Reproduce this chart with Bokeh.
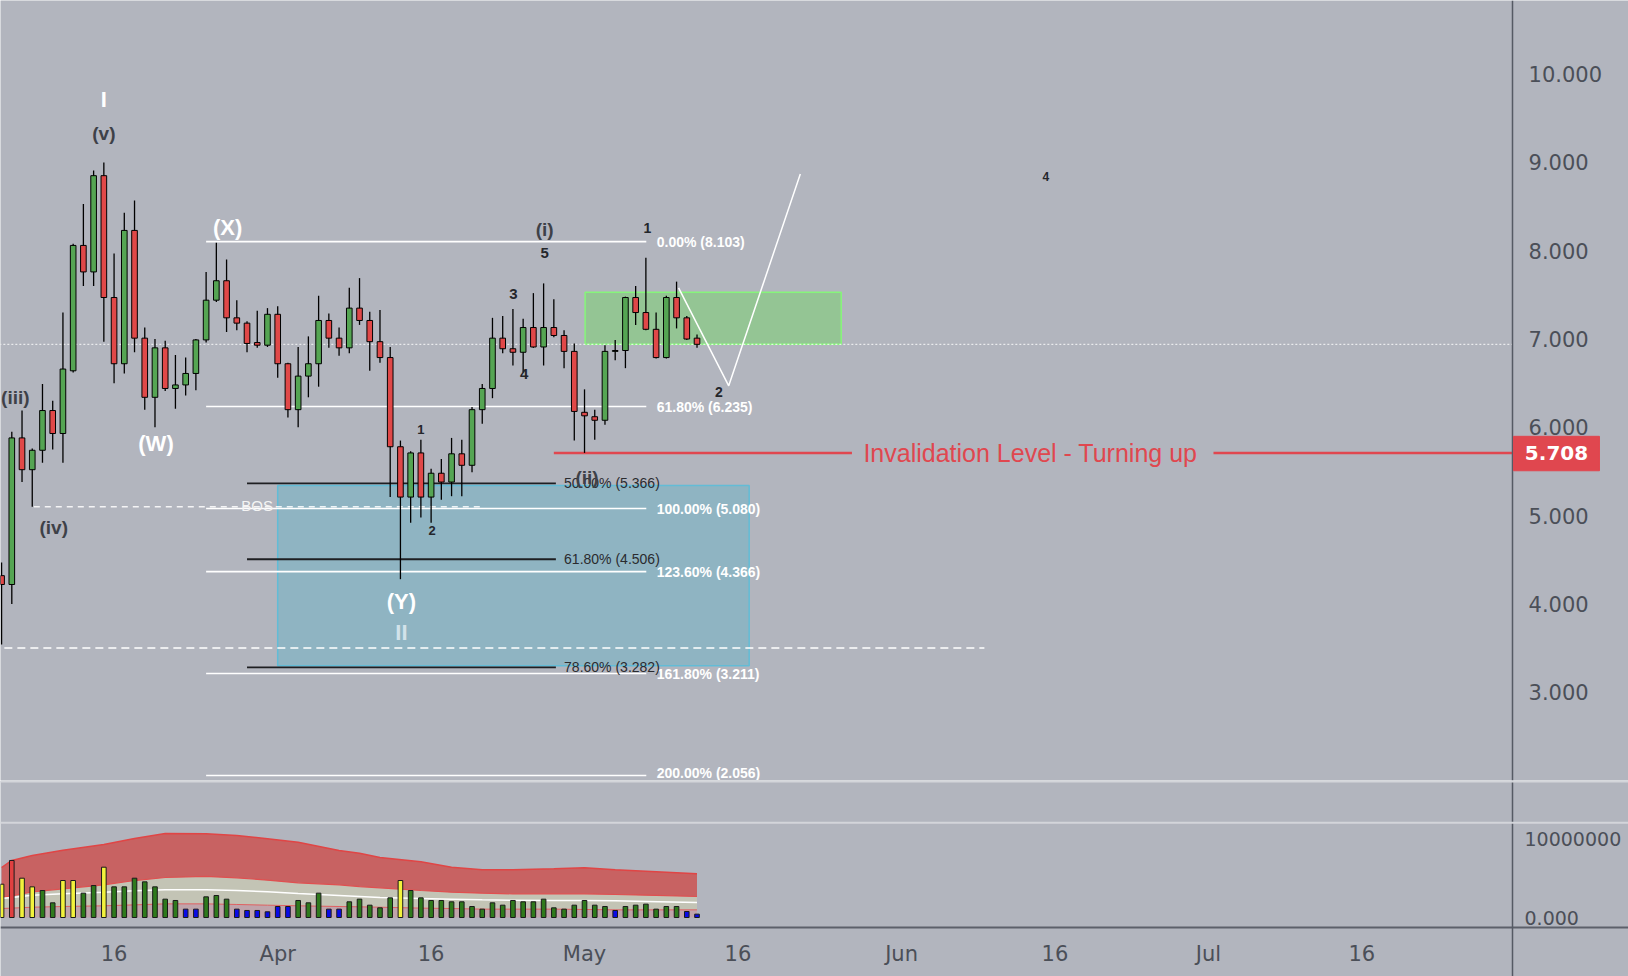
from bokeh.plotting import figure
from bokeh.models import Range1d, FixedTicker, LinearAxis, Span
from bokeh.layouts import column
from bokeh.embed import file_html
from bokeh.resources import INLINE
from bokeh.core.properties import value

# ---------------- data (day index: 0 = 1 Mar) ----------------
days = list(range(4, 73))
opens = [4.32, 4.22, 5.88, 5.52, 5.74, 6.19, 5.93, 6.64, 8.06, 7.76, 8.85, 7.47, 6.72, 8.23, 7.01, 6.34,
         6.90, 6.44, 6.48, 6.61, 6.99, 7.44, 7.66, 7.24, 7.18, 6.96, 6.93, 7.28, 6.72, 6.20, 6.58, 6.72,
         7.21, 7.01, 6.90, 7.35, 7.21, 6.97, 6.79, 5.78, 5.21, 5.71, 5.21, 5.48, 5.38, 5.70, 5.57, 6.20,
         6.44, 7.01, 6.89, 6.85, 7.13, 6.91, 7.13, 7.04, 6.86, 6.17, 6.12, 6.08, 6.86, 6.87, 7.47, 7.30,
         7.11, 6.79, 7.47, 7.24, 7.01]
highs = [4.47, 5.95, 6.19, 5.76, 6.49, 6.30, 7.30, 8.08, 8.53, 8.91, 9.00, 7.97, 8.43, 8.57, 7.13, 7.00,
         6.98, 6.82, 6.79, 7.00, 7.76, 8.09, 7.90, 7.44, 7.20, 7.32, 7.35, 7.37, 6.73, 6.91, 7.03, 7.49,
         7.29, 7.13, 7.58, 7.69, 7.31, 7.33, 6.91, 5.85, 5.73, 5.86, 5.53, 5.64, 5.88, 5.86, 6.23, 6.49,
         7.24, 7.26, 7.34, 7.23, 7.52, 7.63, 7.45, 7.10, 6.95, 6.43, 6.20, 6.93, 6.99, 7.48, 7.60, 7.92,
         7.30, 7.49, 7.65, 7.26, 7.05]
lows = [3.54, 4.00, 5.38, 5.10, 5.60, 5.75, 5.60, 6.62, 7.60, 7.60, 6.97, 6.50, 6.61, 6.85, 6.20, 6.00,
        6.41, 6.21, 6.36, 6.42, 6.96, 7.42, 7.08, 7.10, 6.85, 6.90, 6.91, 6.56, 6.11, 6.00, 6.34, 6.46,
        6.90, 6.81, 6.84, 7.16, 6.64, 6.73, 5.21, 4.28, 4.92, 4.98, 4.92, 5.18, 5.22, 5.22, 5.49, 6.04,
        6.33, 6.84, 6.70, 6.62, 6.90, 6.70, 7.02, 6.67, 5.85, 5.71, 5.86, 6.03, 6.76, 6.67, 7.16, 7.10,
        6.78, 6.78, 7.12, 6.99, 6.90]
closes = [4.22, 5.88, 5.52, 5.74, 6.19, 5.93, 6.66, 8.06, 7.76, 8.85, 7.47, 6.72, 8.23, 7.01, 6.34, 6.90,
          6.44, 6.48, 6.61, 6.99, 7.44, 7.66, 7.24, 7.18, 6.95, 6.93, 7.28, 6.72, 6.20, 6.58, 6.72, 7.21,
          7.01, 6.90, 7.35, 7.21, 6.97, 6.79, 5.78, 5.21, 5.71, 5.21, 5.48, 5.38, 5.70, 5.57, 6.20, 6.44,
          7.01, 6.89, 6.85, 7.13, 6.91, 7.13, 7.04, 6.86, 6.18, 6.13, 6.08, 6.86, 6.87, 7.47, 7.30, 7.11,
          6.79, 7.47, 7.24, 7.00, 6.94]

volume_millions = [4.27, 7.31, 5.04, 3.93, 3.46, 1.88, 4.74, 4.74, 3.12, 4.10, 6.45, 3.93, 3.93, 5.04,
                   4.57, 3.93, 2.35, 2.18, 1.07, 1.07, 2.65, 2.82, 2.35, 1.07, 0.90, 0.90, 0.73, 1.41,
                   1.41, 2.18, 1.88, 3.12, 1.07, 1.07, 2.01, 2.35, 1.58, 1.24, 2.52, 4.74, 3.46, 2.52,
                   2.18, 2.18, 2.01, 2.01, 1.41, 1.07, 1.88, 1.58, 2.18, 2.01, 2.01, 2.35, 1.24, 1.07,
                   1.58, 2.18, 1.58, 1.41, 0.90, 1.41, 1.58, 1.71, 1.07, 1.41, 1.41, 0.77, 0.43]
volume_class = (["high", "peak", "high", "high", "normal", "normal", "high", "high", "normal", "normal",
                 "high", "normal", "normal", "normal", "normal", "normal", "normal", "normal", "low", "low",
                 "normal", "normal", "normal", "low", "low", "low", "low", "low", "low", "normal",
                 "normal", "normal", "low", "low", "normal", "normal", "normal", "normal", "normal", "high"]
                + ["normal"] * 20 + ["low"] + ["normal"] * 6 + ["low", "low"])

band_days = [4, 5, 7, 10, 14, 17, 20, 24, 27, 30, 33, 37, 39, 41, 45, 48, 51, 54, 58, 61, 64, 67, 72]
band_upper = [6.41, 7.31, 7.95, 8.63, 9.36, 10.13, 10.77, 10.73, 10.51, 10.09, 9.66, 8.59, 8.25, 7.69,
              7.14, 6.45, 6.11, 6.11, 6.24, 6.37, 6.11, 5.94, 5.60]
band_high = [2.61, 2.78, 3.29, 3.68, 4.19, 4.74, 5.13, 5.26, 5.09, 4.79, 4.44, 4.19, 3.97, 3.80, 3.46,
             3.25, 3.12, 3.03, 3.03, 3.03, 2.95, 2.86, 2.69]
band_mean = [2.44, 2.56, 2.86, 3.03, 3.25, 3.42, 3.55, 3.55, 3.46, 3.29, 3.08, 2.82, 2.69, 2.56, 2.44,
             2.35, 2.26, 2.22, 2.18, 2.18, 2.14, 2.05, 1.92]
band_low = [1.15, 1.20, 1.32, 1.41, 1.50, 1.62, 1.75, 1.75, 1.67, 1.58, 1.50, 1.41, 1.37, 1.32, 1.20,
            1.15, 1.07, 1.07, 1.07, 1.03, 0.98, 0.98, 0.98]

time_ticks = [15, 31, 46, 61, 76, 92, 107, 122, 137]
time_labels = ["16", "Apr", "16", "May", "16", "Jun", "16", "Jul", "16"]
price_ticks = [3, 4, 5, 6, 7, 8, 9, 10]
price_labels = ["3.000", "4.000", "5.000", "6.000", "7.000", "8.000", "9.000", "10.000"]
volume_ticks = [0, 10000000]
volume_labels = ["0.000", "10000000"]

fib_white_levels = [8.103, 6.235, 5.080, 4.366, 3.211, 2.056]
fib_white_labels = ["0.00% (8.103)", "61.80% (6.235)", "100.00% (5.080)", "123.60% (4.366)",
                    "161.80% (3.211)", "200.00% (2.056)"]
fib_black_levels = [5.366, 4.506, 3.282]
fib_black_labels = ["50.00% (5.366)", "61.80% (4.506)", "78.60% (3.282)"]

invalidation_level = 5.708
invalidation_tag = "5.708"
bos_level = 5.10
low_dashed_level = 3.50
last_price = 6.94

projection_x = [70.2, 75.1, 82.1]
projection_y = [7.58, 6.47, 8.87]

# wave labels: text, day, price, colour kind, size(px), bold
wave_labels = [
    ("I", 14.0, 9.71, "white", 22, True),
    ("(v)", 14.0, 9.33, "dark", 19, True),
    ("(iv)", 9.1, 4.86, "dark", 19, True),
    ("(W)", 19.1, 5.82, "white", 22, True),
    ("(X)", 26.1, 8.26, "white", 22, True),
    ("(Y)", 43.1, 4.03, "white", 22, True),
    ("II", 43.1, 3.68, "light", 22, True),
    ("(i)", 57.1, 8.24, "dark", 19, True),
    ("5", 57.1, 7.97, "black", 15, True),
    ("3", 54.05, 7.51, "black", 15, True),
    ("4", 55.1, 6.60, "black", 15, True),
    ("1", 67.15, 8.26, "black", 14, True),
    ("2", 74.15, 6.40, "black", 14, True),
    ("(ii)", 61.25, 5.43, "dark", 19, True),
    ("1", 45.0, 5.98, "black", 13, True),
    ("2", 46.1, 4.83, "black", 13, True),
    ("4", 106.1, 8.84, "black", 12, True),
]
edge_label = ("(iii)", 3.95, 6.34)

# ---------------- styling ----------------
BG = "#b2b5be"
UP = "#55a553"
DOWN = "#e04848"
RED = "#e0474f"
AXIS_TEXT = "#4b4f58"
AXIS_LINE = "#555a64"
LABEL_COLORS = {"white": "#ffffff", "dark": "#3e4148", "black": "#24262b", "light": "#d2e2ea"}
VOL_COLORS = {"high": "#f2f23c", "peak": "#e04040", "normal": "#2f7a1c", "low": "#0a0ae6"}
FONT = "Liberation Sans"
AXIS_X = 151.74          # day position of the price-scale border line
VOL_BASE = -1.282e6      # volume value at the time-axis line

x_range = Range1d(3.895, 163.08)


def style_axis(ax, size, standoff):
    ax.major_tick_in = 0
    ax.major_tick_out = 0
    ax.minor_tick_in = 0
    ax.minor_tick_out = 0
    ax.major_label_standoff = standoff
    ax.major_label_text_font = "DejaVu Sans"
    ax.major_label_text_font_size = size
    ax.major_label_text_color = AXIS_TEXT
    ax.axis_line_color = AXIS_LINE
    ax.axis_line_width = 1.5


# ---------------- price pane ----------------
p = figure(width=1628, height=780, x_range=x_range, y_range=Range1d(2.0, 10.834),
           x_axis_location=None, y_axis_location=None, toolbar_location=None,
           output_backend="svg", min_border_left=0, min_border_right=0,
           min_border_top=0, min_border_bottom=0, background_fill_color=BG,
           border_fill_color=BG, outline_line_color=None)
p.grid.visible = False

pax = LinearAxis(ticker=FixedTicker(ticks=price_ticks, minor_ticks=[]),
                 major_label_overrides=dict(zip(price_ticks, price_labels)),
                 fixed_location=AXIS_X)
style_axis(pax, "21px", 16)
p.add_layout(pax, "right")

# zones
p.quad(left=[31.0], right=[77.1], bottom=[3.30], top=[5.34], fill_color="#8fb4c2",
       line_color="#62bcd6", line_width=1.5)
p.quad(left=[61.06], right=[86.1], bottom=[6.94], top=[7.53], fill_color="#94c594",
       line_color="#86f57a", line_width=1.5)

# horizontal reference lines
p.segment(x0=[3.0], y0=[low_dashed_level], x1=[100.1], y1=[low_dashed_level],
          line_color="white", line_width=1.5, line_dash="8 5")
p.segment(x0=[7.15], y0=[bos_level], x1=[51.1], y1=[bos_level],
          line_color="white", line_alpha=0.85, line_width=1.5, line_dash="6 5")
p.segment(x0=[3.0], y0=[last_price], x1=[AXIS_X], y1=[last_price], line_color="white",
          line_alpha=0.9, line_width=1, line_dash="2 2")

p.segment(x0=[24.0] * len(fib_white_levels), y0=fib_white_levels,
          x1=[67.04] * len(fib_white_levels), y1=fib_white_levels,
          line_color="white", line_width=1.6)
p.segment(x0=[28.0] * len(fib_black_levels), y0=fib_black_levels,
          x1=[58.2] * len(fib_black_levels), y1=fib_black_levels,
          line_color="#1e1f22", line_width=1.8)

white_offsets = [0] * (len(fib_white_levels) - 1) + [-3]
p.text(x=[68.06] * len(fib_white_levels), y=fib_white_levels, text=fib_white_labels,
       y_offset=white_offsets, text_font=value(FONT), text_font_style="bold",
       text_font_size="14px", text_color="white", text_align="left", text_baseline="middle")
p.text(x=[59.0] * len(fib_black_levels), y=fib_black_levels, text=fib_black_labels,
       text_font=value(FONT), text_font_size="14px",
       text_color="#2a2b2f", text_align="left", text_baseline="middle")

# invalidation level
p.segment(x0=[58.0, 122.5], y0=[invalidation_level] * 2, x1=[87.15, AXIS_X],
          y1=[invalidation_level] * 2, line_color=RED, line_width=2.5)
p.text(x=[104.6], y=[invalidation_level], text=["Invalidation Level - Turning up"],
       text_font=value(FONT), text_font_size="25px", text_color=RED,
       text_align="center", text_baseline="middle")

# candles
body_top = [max(o, c) for o, c in zip(opens, closes)]
body_bot = [min(o, c) for o, c in zip(opens, closes)]
body_col = [UP if c >= o else DOWN for o, c in zip(opens, closes)]
p.segment(x0=days, y0=lows, x1=days, y1=highs, line_color="black", line_width=1.3)
p.vbar(x=days, width=0.55, top=body_top, bottom=body_bot, fill_color=body_col,
       line_color="black", line_width=1)

# projection path
p.line(projection_x, projection_y, line_color="white", line_width=1.5)

# BOS text
p.text(x=[28.98], y=[bos_level + 0.02], text=["BOS"], text_font=value(FONT),
       text_font_size="15px", text_color="#f4f4f4", text_align="center",
       text_baseline="middle")

# wave labels
for t, lx, ly, kind, size, bold in wave_labels:
    p.text(x=[lx], y=[ly], text=[t], text_font=value(FONT),
           text_font_style="bold" if bold else "normal", text_font_size=f"{size}px",
           text_color=LABEL_COLORS[kind], text_align="center", text_baseline="middle")
p.text(x=[edge_label[1]], y=[edge_label[2]], text=[edge_label[0]], text_font=value(FONT),
       text_font_style="bold", text_font_size="19px", text_color=LABEL_COLORS["dark"],
       text_align="left", text_baseline="middle")

# price tag on the price scale (drawn above the scale labels)
p.quad(left=[AXIS_X + 0.1], right=[AXIS_X + 8.5], bottom=[invalidation_level - 0.2],
       top=[invalidation_level + 0.19], fill_color=RED, line_color=RED, level="overlay")
p.text(x=[AXIS_X + 4.3], y=[invalidation_level], text=[invalidation_tag],
       text_font=value("DejaVu Sans"), text_font_style="bold", text_font_size="20px",
       text_color="white", text_align="center", text_baseline="middle", level="overlay")

# ---------------- volume pane ----------------
v = figure(width=1628, height=196, x_range=x_range, y_range=Range1d(-7.564e6, 17.564e6),
           x_axis_location=None, y_axis_location=None, toolbar_location=None,
           output_backend="svg", min_border_left=0, min_border_right=0,
           min_border_top=0, min_border_bottom=0, background_fill_color=BG,
           border_fill_color=BG, outline_line_color=None)
v.grid.visible = False

xax = LinearAxis(ticker=FixedTicker(ticks=time_ticks, minor_ticks=[]),
                 major_label_overrides=dict(zip(time_ticks, time_labels)),
                 fixed_location=VOL_BASE)
style_axis(xax, "21px", 14)
xax.axis_line_color = "#5c606a"
xax.axis_line_width = 2
v.add_layout(xax, "below")

vax = LinearAxis(ticker=FixedTicker(ticks=volume_ticks, minor_ticks=[]),
                 major_label_overrides=dict(zip(volume_ticks, volume_labels)),
                 fixed_location=AXIS_X)
style_axis(vax, "19px", 12)
v.add_layout(vax, "right")

M = 1e6
b_up = [b * M for b in band_upper]
b_hi = [b * M for b in band_high]
b_mn = [b * M for b in band_mean]
b_lo = [b * M for b in band_low]
v.varea(x=band_days, y1=[0] * len(band_days), y2=b_lo, fill_color="#c0a4ab")
v.varea(x=band_days, y1=b_lo, y2=b_hi, fill_color="#c3c4b5")
v.varea(x=band_days, y1=b_hi, y2=b_up, fill_color="#c86262")
v.line(band_days, b_up, line_color="#e04545", line_width=1.5)
v.line(band_days, b_hi, line_color="#e05050", line_width=1.2)
v.line(band_days, b_lo, line_color="#e06060", line_width=1.0)
v.line(band_days, b_mn, line_color="white", line_width=1.5)

v.vbar(x=days, width=0.45, top=[m * M for m in volume_millions], bottom=0,
       fill_color=[VOL_COLORS[c] for c in volume_class], line_color="#1a1a1a", line_width=1)

v.add_layout(Span(location=17.45e6, dimension="width", line_color="#d3d5da", line_width=2))
v.add_layout(Span(location=12.14e6, dimension="width", line_color="#d3d5da", line_width=2))

layout = column(p, v, spacing=0)
open("out.html", "w").write(file_html(layout, INLINE))
